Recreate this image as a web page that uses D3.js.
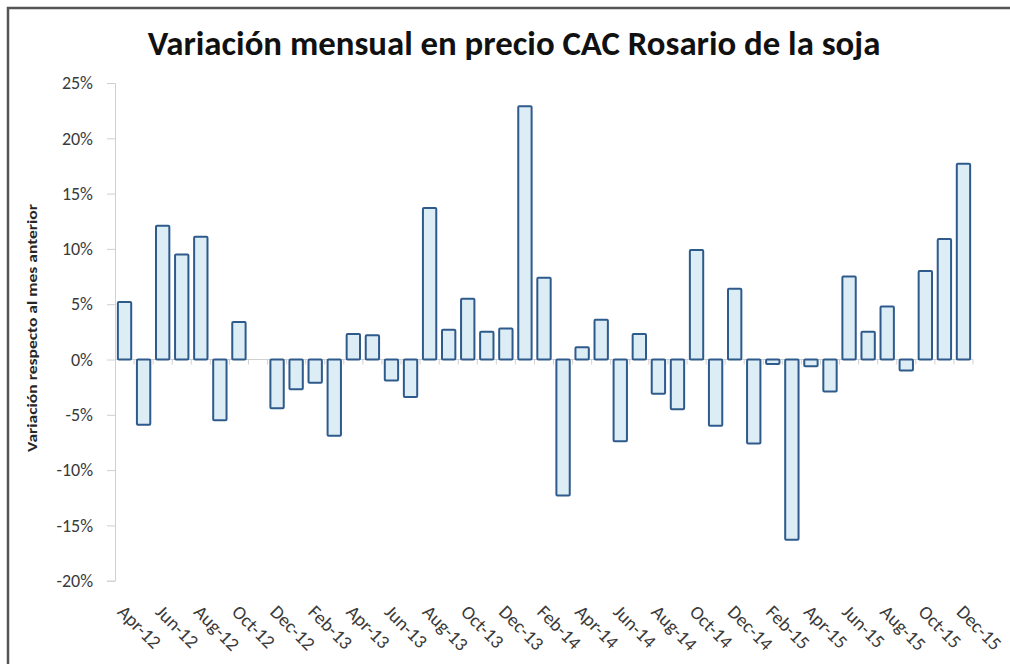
<!DOCTYPE html>
<html>
<head>
<meta charset="utf-8">
<script src="https://cdn.jsdelivr.net/npm/d3@7"></script>
<style>
  html, body { margin: 0; background: #fff; overflow: hidden; }
  svg { display: block; }
  text { font-family: Carlito, Calibri, Lato, "Open Sans", sans-serif; }
</style>
</head>
<body>
<div id="chart"></div>
<script>
// months Apr-12 .. Dec-15
var months = ["Apr-12","May-12","Jun-12","Jul-12","Aug-12","Sep-12","Oct-12","Nov-12","Dec-12",
  "Jan-13","Feb-13","Mar-13","Apr-13","May-13","Jun-13","Jul-13","Aug-13","Sep-13","Oct-13","Nov-13","Dec-13",
  "Jan-14","Feb-14","Mar-14","Apr-14","May-14","Jun-14","Jul-14","Aug-14","Sep-14","Oct-14","Nov-14","Dec-14",
  "Jan-15","Feb-15","Mar-15","Apr-15","May-15","Jun-15","Jul-15","Aug-15","Sep-15","Oct-15","Nov-15","Dec-15"];

// monthly variation, percent
var variation = [5.2, -5.9, 12.1, 9.5, 11.1, -5.5, 3.4, 0, -4.4,
  -2.7, -2.1, -6.9, 2.3, 2.2, -1.9, -3.4, 13.7, 2.7, 5.5, 2.5, 2.8,
  22.9, 7.4, -12.3, 1.1, 3.6, -7.4, 2.3, -3.1, -4.5, 9.9, -6.0, 6.4,
  -7.6, -0.4, -16.3, -0.6, -2.9, 7.5, 2.5, 4.8, -1.0, 8.0, 10.9, 17.7];

var yTicks = [25, 20, 15, 10, 5, 0, -5, -10, -15, -20];

var title = "Variación mensual en precio CAC Rosario de la soja";
var yTitle = "Variación respecto al mes anterior";

var W = 1010, H = 664;
var plotLeft = 115, plotRight = 973, plotTop = 83, plotBottom = 580.7;

var svg = d3.select("#chart").append("svg")
    .attr("width", W)
    .attr("height", H);

// frame: only top and left edges are visible in the crop
svg.append("line")
    .attr("x1", 8).attr("x2", 8)
    .attr("y1", 7).attr("y2", H)
    .attr("stroke", "#555")
    .attr("stroke-width", 2.5);
svg.append("line")
    .attr("x1", 7).attr("x2", W)
    .attr("y1", 8).attr("y2", 8)
    .attr("stroke", "#555")
    .attr("stroke-width", 2.5);

var x = d3.scaleBand()
    .domain(months)
    .range([plotLeft, plotRight])
    .paddingInner(0.3)
    .paddingOuter(0.15);

var y = d3.scaleLinear()
    .domain([-20, 25])
    .range([plotBottom, plotTop]);

svg.append("text")
    .attr("x", 514)
    .attr("y", 55)
    .attr("text-anchor", "middle")
    .attr("font-size", "34.8px")
    .attr("font-weight", "bold")
    .attr("fill", "#111")
    .text(title);

// y axis
var yAxis = svg.append("g")
    .attr("transform", "translate(" + plotLeft + ",0)")
    .call(d3.axisLeft(y).tickValues(yTicks).tickSize(8).tickPadding(14)
        .tickFormat(function (d) { return d + "%"; }));
yAxis.select(".domain").attr("stroke", "#d0d0d0");
yAxis.selectAll(".tick line").attr("stroke", "#d0d0d0");
yAxis.selectAll(".tick text")
    .attr("font-size", "18px")
    .attr("fill", "#3a3a3a")
    .style("font-family", "Carlito, Calibri, Lato, sans-serif");

svg.append("text")
    .attr("transform", "translate(37,328) rotate(-90)")
    .attr("text-anchor", "middle")
    .attr("font-size", "13px")
    .attr("font-weight", "bold")
    .attr("fill", "#262626")
    .attr("textLength", 248)
    .attr("lengthAdjust", "spacingAndGlyphs")
    .text(yTitle);

// zero line with small category ticks
var step = x.step();
svg.append("line")
    .attr("x1", plotLeft).attr("x2", plotRight)
    .attr("y1", y(0)).attr("y2", y(0))
    .attr("stroke", "#d0d0d0");
svg.selectAll(".cat-tick")
    .data(months)
    .enter().append("line")
    .attr("class", "cat-tick")
    .attr("x1", function (d, i) { return plotLeft + (i + 1) * step; })
    .attr("x2", function (d, i) { return plotLeft + (i + 1) * step; })
    .attr("y1", y(0))
    .attr("y2", y(0) + 5)
    .attr("stroke", "#d0d0d0");

// bars
svg.selectAll(".bar")
    .data(variation)
    .enter().append("rect")
    .attr("class", "bar")
    .attr("x", function (d, i) { return x(months[i]); })
    .attr("y", function (d) { return y(Math.max(0, d)); })
    .attr("width", x.bandwidth())
    .attr("height", function (d) { return Math.abs(y(d) - y(0)); })
    .attr("rx", 1)
    .style("fill", "#dcedf5")
    .style("stroke", "#2e5a8c")
    .style("stroke-width", 2);

// x labels every second month
svg.selectAll(".xlab")
    .data(months.filter(function (d, i) { return i % 2 === 0; }))
    .enter().append("text")
    .attr("class", "xlab")
    .attr("transform", function (d) {
        return "translate(" + (x(d) + x.bandwidth() / 2 + 2) + ",603) rotate(45)";
    })
    .attr("dy", "0.75em")
    .attr("font-size", "19px")
    .attr("fill", "#3a3a3a")
    .text(function (d) { return d; });
</script>
</body>
</html>
